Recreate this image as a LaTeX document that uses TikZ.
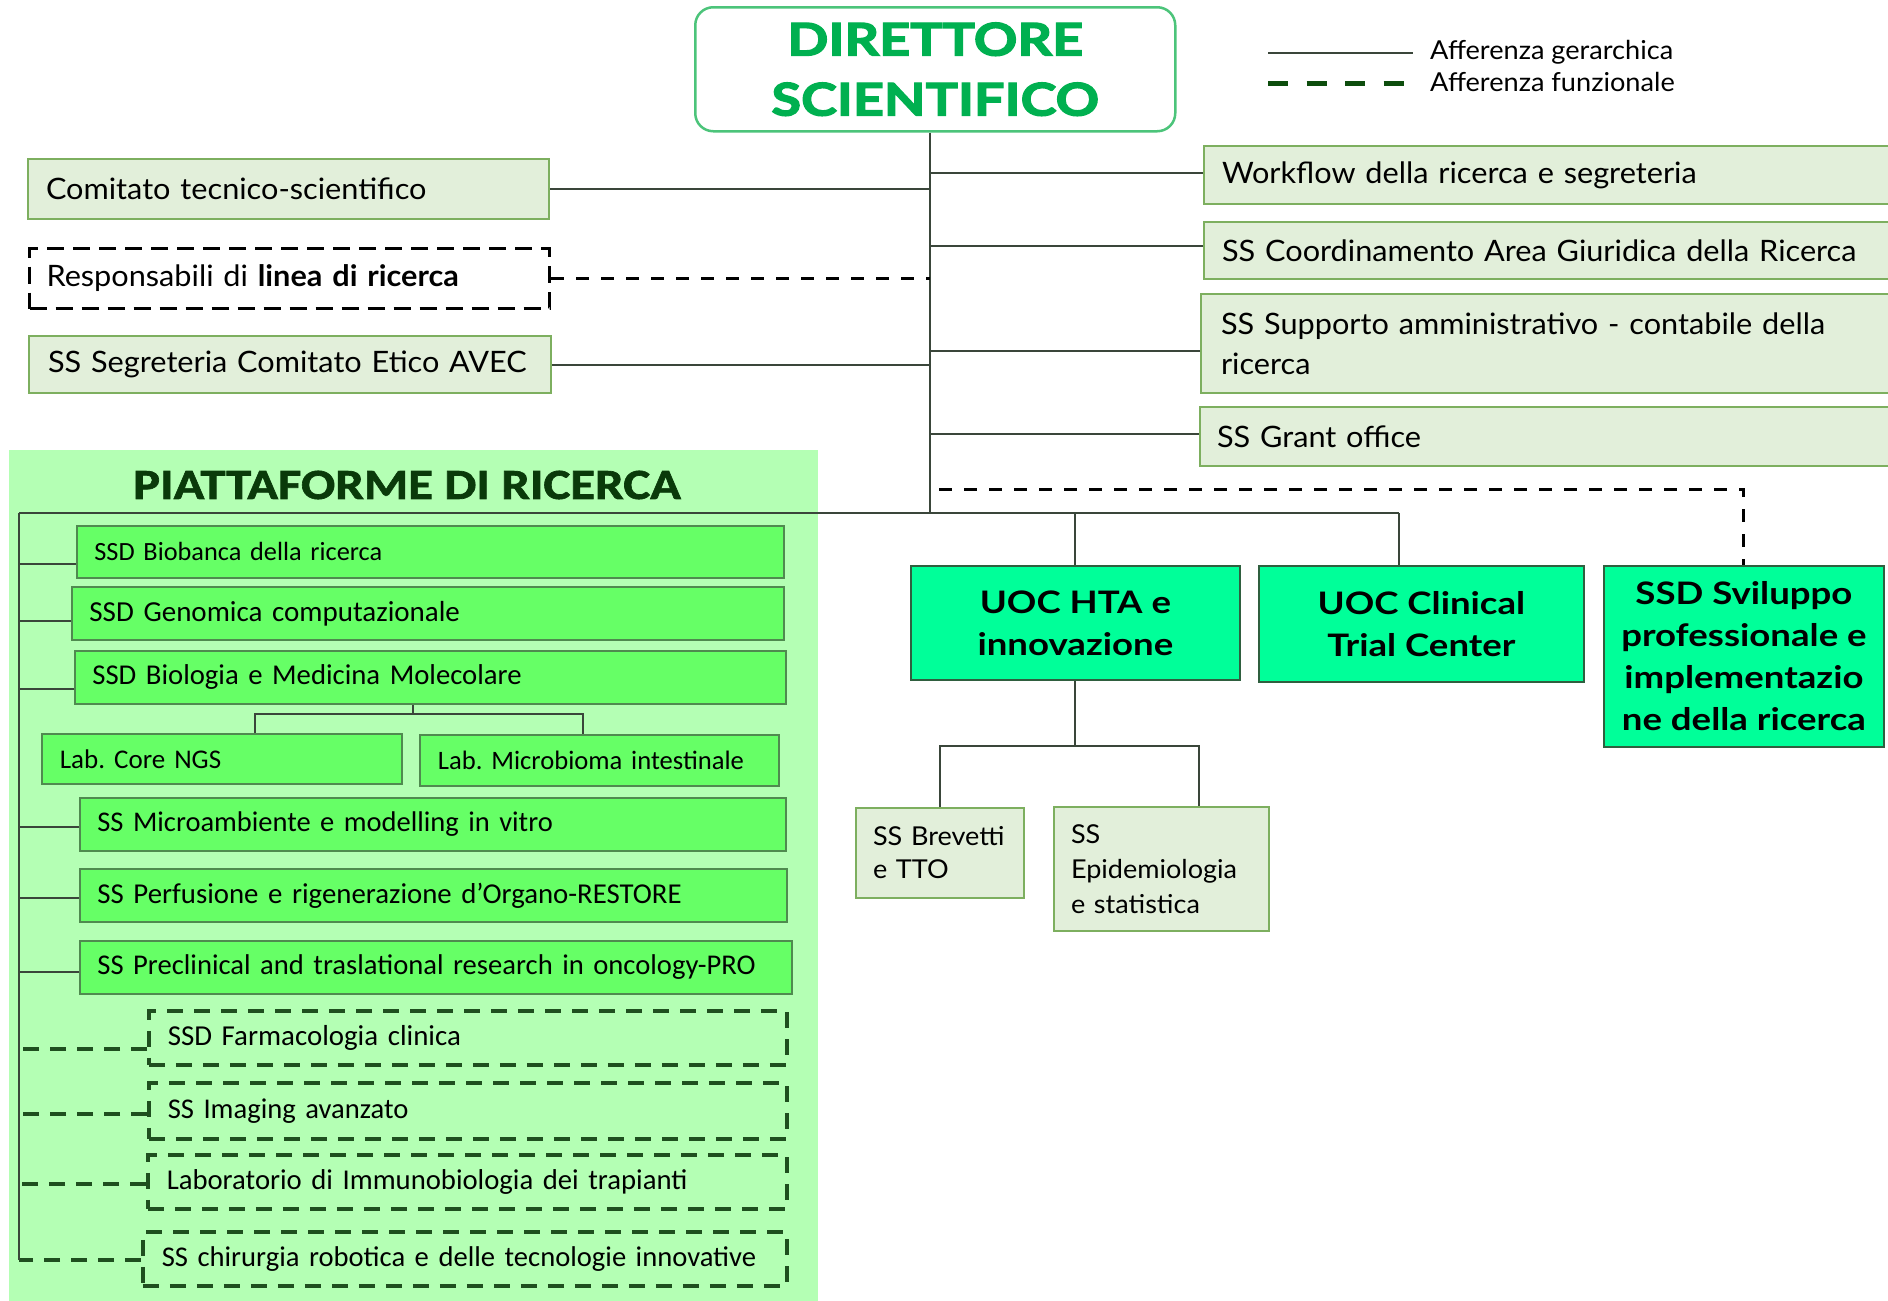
\documentclass[tikz,border=0pt]{standalone}
\usepackage{fontspec}
\setmainfont{Lato}
\newfontfamily\gill[FakeStretch=1.04]{Lato}
\newfontfamily\uocfont[FakeStretch=1.18]{Lato}
\newfontfamily\calib{Carlito}
\newfontfamily\ptitfont[FakeStretch=1.18, BoldFeatures={FakeBold=1.5}]{Carlito}
\newfontfamily\titlefont[FakeStretch=1.2, BoldFeatures={FakeBold=3}]{Lato}
\usetikzlibrary{positioning, calc}
\definecolor{dirgreen}{HTML}{00B050}
\definecolor{dirline}{HTML}{4CC47A}
\definecolor{lgfill}{HTML}{E2EFDA}
\definecolor{lgdraw}{HTML}{7DAF5F}
\definecolor{pbg}{HTML}{B4FFB4}
\definecolor{pfill}{HTML}{66FF66}
\definecolor{pdraw}{HTML}{4F8A4F}
\definecolor{pdash}{HTML}{1F4F1F}
\definecolor{mfill}{HTML}{00FF99}
\definecolor{mdraw}{HTML}{2F5F3F}
\definecolor{lineclr}{HTML}{3A463A}
\definecolor{ptitle}{HTML}{0A3A0A}
\definecolor{legdash}{HTML}{0D4D0D}
\newcommand\gilltxt{\gill\fontsize{29.5}{40}\selectfont}
\newcommand\uoctxt{\uocfont\bfseries\fontsize{31}{42}\selectfont}
\frenchspacing
\tikzset{
  conn/.style={draw=lineclr, line width=2pt},
  funz/.style={draw=black, line width=3pt, dash pattern=on 13pt off 12pt},
  pfunz/.style={draw=pdash, line width=3.5pt, dash pattern=on 16pt off 11pt},
  lbox/.style={draw=lgdraw, fill=lgfill, line width=2pt, anchor=north west, inner xsep=18pt, inner ysep=0pt, align=left, font=\gilltxt},
  pbox/.style={draw=pdraw, fill=pfill, line width=1.8pt, anchor=north west, inner xsep=17.5pt, inner ysep=0pt, align=left},
  dbox/.style={pbox, draw=pdash, fill=none, line width=3.5pt, dash pattern=on 16pt off 11pt},
  ubox/.style={draw=mdraw, fill=mfill, line width=1.8pt, anchor=north west, inner sep=0pt, align=center, font=\uoctxt},
  legtext/.style={anchor=base west, inner sep=0pt, font=\gill\fontsize{26.1}{30}\selectfont},
}
\begin{document}
\begin{tikzpicture}[x=1pt, y=-1pt]
  \fill[white] (0,0) rectangle (1888,1301);
  \useasboundingbox (0,0) rectangle (1888,1301);
  % top
  \node[draw=dirline, line width=2.5pt, rounded corners=18pt, minimum width=480, minimum height=124, anchor=north west, align=center, text=dirgreen, font=\titlefont\bfseries\fontsize{45}{60}\selectfont] (dir) at (694,6) {DIRETTORE\\SCIENTIFICO};
  % legend
  \coordinate (lg1a) at (1268,53); \coordinate (lg1b) at (1413,53);
  \coordinate (lg2a) at (1268,83); \coordinate (lg2b) at (1406,83);
  \draw[conn] (lg1a) -- (lg1b);
  \draw[draw=legdash, line width=5pt, dash pattern=on 20pt off 18.5pt] (lg2a) -- (lg2b);
  \node[legtext] (lgt1) at (1430,59) {Afferenza gerarchica};
  \node[legtext] (lgt2) at (1430,91) {Afferenza funzionale};
  % staff on the left
  \node[lbox, minimum width=521, minimum height=60, text width=485pt] (cts) at (27,158) {Comitato tecnico-scientifico};
  \node[lbox, draw=black, fill=none, line width=3pt, dash pattern=on 17pt off 9pt, minimum width=520, minimum height=60, text width=486pt, inner xsep=17pt] (resp) at (28,247) {Responsabili di \textbf{linea di ricerca}};
  \node[lbox, minimum width=522, minimum height=57, text width=484pt, inner xsep=19pt] (seg) at (28,335) {SS Segreteria Comitato Etico AVEC};
  % staff on the right
  \node[lbox, minimum width=692, minimum height=58, text width=656pt] (wf) at (1203,145) {Workflow della ricerca e segreteria};
  \node[lbox, minimum width=692, minimum height=57, text width=656pt] (coord) at (1203,221) {SS Coordinamento Area Giuridica della Ricerca};
  \node[lbox, minimum width=695, minimum height=99, text width=655pt, inner xsep=20pt] (supp) at (1200,293) {SS Supporto amministrativo - contabile della\\ricerca};
  \node[lbox, minimum width=696, minimum height=59, text width=662pt, inner xsep=17pt] (grant) at (1199,406) {SS Grant office};
  % trunk and staff links
  \coordinate (trunk) at (930,513);
  \draw[conn] (trunk |- dir.south) -- (trunk);
  \draw[conn] (cts.east) -- (cts.east -| trunk);
  \draw[funz] (resp.east) -- (resp.east -| trunk);
  \draw[conn] (seg.east) -- (seg.east -| trunk);
  \draw[conn] ([yshift=2]wf.west) -- ([yshift=2]wf.west -| trunk);
  \draw[conn] ([yshift=4.5]coord.west) -- ([yshift=4.5]coord.west -| trunk);
  \draw[conn] ([yshift=-7.5]supp.west) -- ([yshift=-7.5]supp.west -| trunk);
  \draw[conn] ([yshift=2.5]grant.west) -- ([yshift=2.5]grant.west -| trunk);
  % research platforms
  \fill[pbg] (9,450) rectangle (818,1301);
  \node[font=\ptitfont\bfseries\fontsize{43}{48}\selectfont, text=ptitle] (ptit) at (407,485) {PIATTAFORME DI RICERCA};
  \coordinate (pbus) at (19,513);
  \coordinate (cbus) at (1399,513);
  \draw[conn] (pbus) -- (cbus);
  \foreach \n/\x/\y/\w/\h/\o/\s/\t in {
    b1/76/525/707/52/-12/26.3/SSD Biobanca della ricerca,
    b2/71/586/712/53/-8/29/SSD Genomica computazionale,
    b3/74/650/711/53/-12/28.7/SSD Biologia e Medicina Molecolare,
    b4/79/797/706/53/-3/28.5/SS Microambiente e modelling in vitro,
    b5/79/868/707/53/-3/28.8/SS Perfusione e rigenerazione d’Organo-RESTORE,
    b6/79/940/712/53/-5/28.6/SS Preclinical and traslational research in oncology-PRO} {
    \pgfmathsetmacro\tw{\w-35}
    \node[pbox, minimum width=\w, minimum height=\h, text width=\tw pt, font=\calib\fontsize{\s}{32}\selectfont] (\n) at (\x,\y) {\t};
    \draw[conn] ([yshift=\o]\n.west) -- ([yshift=\o]\n.west -| pbus);
  }
  \foreach \n/\x/\y/\w/\h/\o/\s/\t in {
    d1/147/1009/638/54/-11/28.9/SSD Farmacologia clinica,
    d2/147/1081/638/56/-3/28.6/SS Imaging avanzato,
    d3/146/1153/639/54/-2/28.7/Laboratorio di Immunobiologia dei trapianti,
    d4/141/1230/644/54/-1/28.6/SS chirurgia robotica e delle tecnologie innovative} {
    \pgfmathsetmacro\tw{\w-38}
    \node[dbox, minimum width=\w, minimum height=\h, text width=\tw pt, inner xsep=19pt, font=\calib\fontsize{\s}{32}\selectfont] (\n) at (\x,\y) {\t};
    \draw[pfunz] ([yshift=\o]\n.west) -- ([yshift=\o]\n.west -| pbus);
  }
  \draw[conn] (pbus) -- ([yshift=-1]d4.west -| pbus);
  % labs under biologia
  \node[pbox, minimum width=360, minimum height=50, text width=324pt, inner xsep=18pt, font=\calib\fontsize{27}{32}\selectfont] (ngs) at (41,733) {Lab. Core NGS};
  \node[pbox, minimum width=359, minimum height=51, text width=323pt, inner xsep=18pt, font=\calib\fontsize{26.6}{32}\selectfont] (mic) at (419,734) {Lab. Microbioma intestinale};
  \coordinate (bsplit) at (413,714);
  \coordinate (bsplitL) at (255,714);
  \coordinate (bsplitR) at (583,714);
  \draw[conn] (bsplit |- b3.south) -- (bsplit);
  \draw[conn] (bsplitL |- ngs.north) -- (bsplitL) -- (bsplitR) -- (bsplitR |- mic.north);
  % line units
  \node[ubox, minimum width=329, minimum height=114] (hta) at (910,565) {UOC HTA e\\innovazione};
  \node[ubox, minimum width=325, minimum height=116] (cct) at (1258,565) {UOC Clinical\\Trial Center};
  \node[ubox, minimum width=280, minimum height=181, text depth=0pt] (ssd) at (1603,565) {SSD Sviluppo\\professionale e\\implementazio\\ne della ricerca};
  \draw[conn] (hta.north |- trunk) -- (hta.north);
  \draw[conn] (cbus) -- (cbus |- cct.north);
  \coordinate (fstart) at (939,489);
  \draw[funz] (fstart) -| (ssd.north);
  % under hta
  \node[lbox, minimum width=168, minimum height=90, text width=134pt, inner xsep=17pt, font=\gill\fontsize{26}{33}\selectfont] (brev) at (855,807) {SS Brevetti\\e TTO};
  \node[lbox, minimum width=215, minimum height=124, text width=181pt, inner xsep=17pt, font=\gill\fontsize{26}{35}\selectfont] (epi) at (1053,806) {SS\\Epidemiologia\\e statistica};
  \coordinate (hsplitL) at (940,746);
  \coordinate (hsplitR) at (1199,746);
  \draw[conn] (hta.south) -- (hta.south |- hsplitL);
  \draw[conn] (brev.north) |- (hsplitR) -- (hsplitR |- epi.north);
\end{tikzpicture}
\end{document}
